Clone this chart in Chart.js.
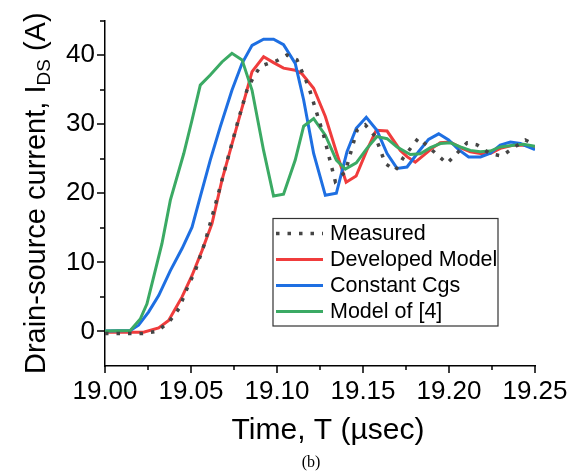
<!DOCTYPE html>
<html>
<head>
<meta charset="utf-8">
<script src="https://cdn.jsdelivr.net/npm/chart.js@4.4.1/dist/chart.umd.min.js"></script>
<style>
  html, body { margin: 0; padding: 0; background: #ffffff; }
  #wrap { width: 574px; height: 472px; }
</style>
</head>
<body>
<div id="wrap"><canvas id="chart" width="574" height="472"></canvas></div>
<script>
// Drain-source current transients (time in µs, current in A)
const measuredT = [19.000, 19.010, 19.022, 19.030, 19.037, 19.043, 19.048, 19.0525, 19.058, 19.064, 19.069, 19.073, 19.0775, 19.0825, 19.0865, 19.0905, 19.095, 19.100, 19.1058, 19.1116, 19.1184, 19.1271, 19.1339, 19.1397, 19.1465, 19.1513, 19.1572, 19.163, 19.1688, 19.1736, 19.1823, 19.1881, 19.1988, 19.2047, 19.2105, 19.2163, 19.224, 19.2308, 19.2376, 19.2444, 19.250];
const measuredI = [-0.3, -0.3, -0.3, 0.0, 1.3, 3.3, 6.4, 8.8, 12.8, 18.2, 22.8, 26.5, 30.6, 34.9, 36.9, 38.4, 38.8, 39.2, 40.0, 39.3, 35.4, 28.4, 21.7, 23.1, 29.1, 29.9, 28.2, 24.3, 23.3, 25.2, 28.0, 26.7, 24.3, 25.8, 27.3, 27.0, 25.7, 25.4, 26.6, 27.7, 27.0];

const developedT = [19.000, 19.0224, 19.0312, 19.037, 19.0448, 19.0506, 19.0564, 19.0622, 19.068, 19.0855, 19.0922, 19.098, 19.1038, 19.1106, 19.1145, 19.1213, 19.1281, 19.1348, 19.1402, 19.146, 19.1522, 19.1577, 19.164, 19.1717, 19.1756, 19.1804, 19.1843, 19.1901, 19.1949, 19.2007, 19.2076, 19.2124, 19.2182, 19.224, 19.2298, 19.2376, 19.2434, 19.250];
const developedI = [-0.1, -0.1, 0.5, 1.6, 5.0, 8.1, 11.7, 15.6, 21.9, 37.6, 39.75, 38.9, 38.1, 37.8, 37.3, 35.2, 31.1, 25.75, 21.6, 22.5, 26.2, 29.1, 29.0, 26.2, 25.3, 24.5, 25.3, 26.5, 27.3, 27.4, 26.5, 26.0, 25.75, 25.75, 26.5, 26.96, 26.96, 26.7];

const constantCgsT = [19.000, 19.0147, 19.0195, 19.0253, 19.0312, 19.038, 19.0448, 19.0506, 19.0554, 19.0612, 19.067, 19.0738, 19.0797, 19.0855, 19.0922, 19.098, 19.1038, 19.1106, 19.1155, 19.1213, 19.1281, 19.1345, 19.1407, 19.1461, 19.1519, 19.1581, 19.164, 19.1698, 19.1756, 19.1823, 19.1881, 19.194, 19.1998, 19.2056, 19.2114, 19.2183, 19.2241, 19.2298, 19.2357, 19.2415, 19.250];
const constantCgsI = [0.05, 0.15, 0.9, 2.8, 5.2, 8.8, 12.0, 15.1, 19.5, 24.8, 29.6, 34.9, 38.8, 41.4, 42.3, 42.3, 41.5, 38.8, 33.5, 25.75, 19.7, 20.0, 26.0, 29.4, 31.0, 29.1, 25.75, 23.6, 23.8, 26.0, 27.8, 28.6, 27.7, 26.3, 25.25, 25.25, 25.8, 26.96, 27.4, 27.2, 26.3];

const modelRef4T = [19.000, 19.0147, 19.0205, 19.0244, 19.0283, 19.0331, 19.038, 19.0458, 19.0506, 19.0554, 19.0612, 19.068, 19.0738, 19.0797, 19.0855, 19.0922, 19.098, 19.1038, 19.1106, 19.1155, 19.1213, 19.1281, 19.1345, 19.1397, 19.1461, 19.1523, 19.1581, 19.164, 19.1698, 19.1775, 19.1833, 19.1892, 19.195, 19.2008, 19.2066, 19.2124, 19.2182, 19.224, 19.2298, 19.2376, 19.2434, 19.250];
const modelRef4I = [0.05, 0.15, 1.8, 4.0, 7.9, 12.7, 19.0, 25.75, 30.6, 35.65, 37.1, 39.0, 40.25, 39.3, 34.9, 26.2, 19.6, 19.85, 24.8, 29.7, 30.8, 28.4, 24.8, 23.5, 24.4, 26.5, 28.2, 27.9, 26.7, 25.6, 25.7, 26.6, 27.2, 27.3, 26.7, 26.2, 26.0, 26.1, 26.7, 26.96, 27.1, 26.8];

const seriesNames = ['Measured', 'Developed Model', 'Constant Cgs', 'Model of [4]'];

// Labelled axis ticks
const xTickLabels = [19.00, 19.05, 19.10, 19.15, 19.20, 19.25];
const yTickLabels = [0, 10, 20, 30, 40];

const FONT = '"Liberation Sans", Arial, sans-serif';
const COLORS = { measured: '#454545', developed: '#F03C3C', constant: '#1E6FE2', model4: '#3BAA64' };

const pairs = (ts, vs) => ts.map((t, i) => ({ x: t, y: vs[i] }));
const isMajorX = v => xTickLabels.some(m => Math.abs(m - v) < 1e-6);
const isMajorY = v => yTickLabels.some(m => Math.abs(m - v) < 1e-6);

// Outward tick marks (long for labelled, short for minor), axis titles, caption and boxed legend
const decorations = {
  id: 'decorations',
  afterDraw(chart) {
    const { ctx, chartArea: ca, scales } = chart;
    const xs = scales.x, ys = scales.y;
    ctx.save();
    ctx.strokeStyle = '#000';
    ctx.lineWidth = 1.5;
    ctx.beginPath();
    xs.ticks.forEach(t => {
      const len = isMajorX(t.value) ? 7 : 4;
      const px = Math.round(xs.getPixelForValue(t.value));
      ctx.moveTo(px, ca.bottom);
      ctx.lineTo(px, ca.bottom + len);
    });
    ys.ticks.forEach(t => {
      if (t.value <= ys.min) return;
      const len = isMajorY(t.value) ? 8 : 5;
      const py = Math.round(ys.getPixelForValue(t.value));
      ctx.moveTo(ca.left, py);
      ctx.lineTo(ca.left - len, py);
    });
    ctx.stroke();

    // x axis title
    ctx.fillStyle = '#000';
    ctx.textAlign = 'center';
    ctx.textBaseline = 'alphabetic';
    ctx.font = '30px ' + FONT;
    ctx.fillText('Time, T (\u00B5sec)', 328, 439);

    // caption
    ctx.font = '16px "Liberation Serif", "Times New Roman", serif';
    ctx.fillText('(b)', 311, 467);

    // y axis title with subscript
    const mainFont = '29px ' + FONT;
    const subFont = '19px ' + FONT;
    const p1 = 'Drain-source current, I';
    const p2 = 'DS';
    const p3 = ' (A)';
    ctx.font = mainFont; const w1 = ctx.measureText(p1).width; const w3 = ctx.measureText(p3).width;
    ctx.font = subFont; const w2 = ctx.measureText(p2).width;
    const total = w1 + w2 + w3;
    ctx.translate(45, (ca.top + ca.bottom) / 2);
    ctx.rotate(-Math.PI / 2);
    ctx.textAlign = 'left';
    const x0 = -total / 2;
    ctx.font = mainFont; ctx.fillText(p1, x0, 0);
    ctx.font = subFont; ctx.fillText(p2, x0 + w1, 5);
    ctx.font = mainFont; ctx.fillText(p3, x0 + w1 + w2, 0);
    ctx.setTransform(1, 0, 0, 1, 0, 0);

    // legend
    const bx = 273, by = 218.5, bw = 225, bh = 107.5;
    ctx.fillStyle = '#fff';
    ctx.fillRect(bx, by, bw, bh);
    ctx.strokeStyle = '#333';
    ctx.lineWidth = 1.2;
    ctx.strokeRect(bx, by, bw, bh);
    ctx.font = '21.5px ' + FONT;
    ctx.textBaseline = 'middle';
    ctx.textAlign = 'left';
    chart.data.datasets.forEach((ds, i) => {
      const cy = by + 15 + i * 26;
      ctx.save();
      ctx.strokeStyle = ds.borderColor;
      ctx.lineWidth = ds.borderWidth;
      ctx.setLineDash(ds.borderDash || []);
      ctx.beginPath();
      ctx.moveTo(bx + 3, cy);
      ctx.lineTo(bx + 50, cy);
      ctx.stroke();
      ctx.restore();
      ctx.fillStyle = '#000';
      ctx.fillText(ds.label, bx + 57, cy + 1);
    });
    ctx.restore();
  }
};

const common = { pointRadius: 0, pointHoverRadius: 0, tension: 0, fill: false, borderWidth: 3 };

new Chart(document.getElementById('chart'), {
  type: 'line',
  data: {
    datasets: [
      { ...common, label: seriesNames[0], data: pairs(measuredT, measuredI), borderColor: COLORS.measured, borderWidth: 3.5, borderDash: [3.5, 8], order: 0 },
      { ...common, label: seriesNames[1], data: pairs(developedT, developedI), borderColor: COLORS.developed, order: 3 },
      { ...common, label: seriesNames[2], data: pairs(constantCgsT, constantCgsI), borderColor: COLORS.constant, order: 2 },
      { ...common, label: seriesNames[3], data: pairs(modelRef4T, modelRef4I), borderColor: COLORS.model4, order: 1 }
    ]
  },
  options: {
    responsive: false,
    animation: false,
    devicePixelRatio: 1,
    layout: { padding: { left: 0, right: 39, top: 20.5, bottom: 0 } },
    plugins: { legend: { display: false }, tooltip: { enabled: false }, title: { display: false } },
    scales: {
      x: {
        type: 'linear',
        min: 19.0, max: 19.25,
        afterFit: s => { s.height = 106; s.paddingLeft = 0; s.paddingRight = 0; },
        border: { display: true, color: '#000', width: 1.5 },
        grid: { drawOnChartArea: false, drawTicks: false },
        ticks: {
          stepSize: 0.025, autoSkip: false, maxRotation: 0, minRotation: 0,
          padding: 10, color: '#000', font: { family: FONT, size: 26 },
          callback: v => isMajorX(v) ? Number(v).toFixed(2) : ''
        }
      },
      y: {
        type: 'linear',
        min: -5, max: 45,
        afterFit: s => { s.width = 105; s.paddingTop = 0; s.paddingBottom = 0; },
        border: { display: true, color: '#000', width: 1.5 },
        grid: { drawOnChartArea: false, drawTicks: false },
        ticks: {
          stepSize: 5, autoSkip: false, padding: 10, color: '#000',
          font: { family: FONT, size: 26 },
          callback: v => isMajorY(v) ? String(v) : ''
        }
      }
    }
  },
  plugins: [decorations]
});
</script>
</body>
</html>
